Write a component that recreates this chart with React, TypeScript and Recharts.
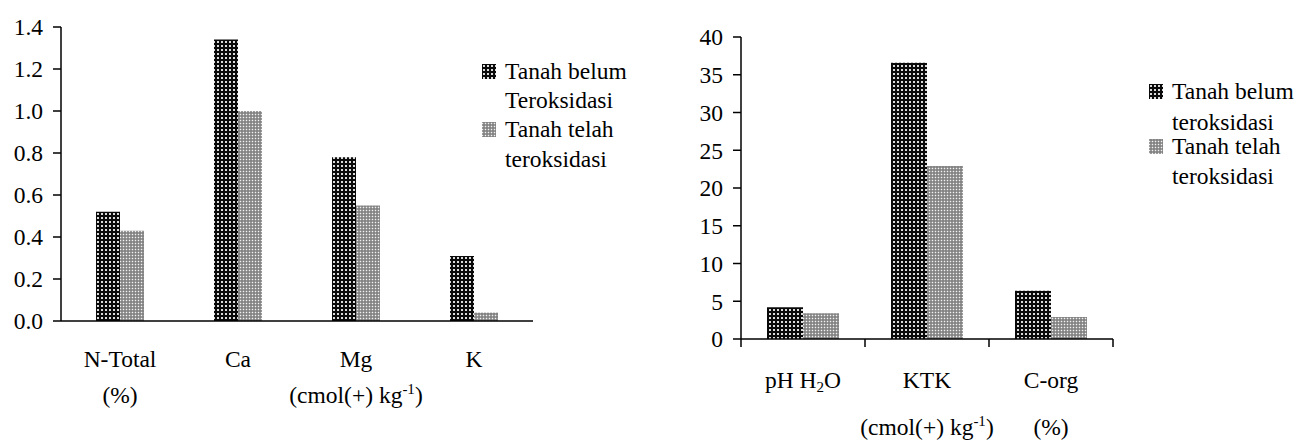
import { BarChart, Bar, XAxis, YAxis } from "recharts";

// ─── Data ───────────────────────────────────────────────
const nutrientNames = ["N-Total", "Ca", "Mg", "K"];
const nutrientUnits = ["%", "", "cmol", ""];
const nutrientBelum = [0.52, 1.34, 0.78, 0.31];
const nutrientTelah = [0.43, 1.0, 0.55, 0.04];
const nutrientTicks = [0, 0.2, 0.4, 0.6, 0.8, 1.0, 1.2, 1.4];

const soilNames = ["pH H2O", "KTK", "C-org"];
const soilUnits = ["", "cmol", "%"];
const soilBelum = [4.2, 36.6, 6.4];
const soilTelah = [3.4, 22.9, 2.9];
const soilTicks = [0, 5, 10, 15, 20, 25, 30, 35, 40];

const leftLegend = ["Tanah belum", "Teroksidasi", "Tanah telah", "teroksidasi"];
const rightLegend = ["Tanah belum", "teroksidasi", "Tanah telah", "teroksidasi"];

const nutrientData = nutrientNames.map((name, i) => ({
    name,
    belum: nutrientBelum[i],
    telah: nutrientTelah[i],
}));
const soilData = soilNames.map((name, i) => ({
    name,
    belum: soilBelum[i],
    telah: soilTelah[i],
}));

const FONT = "'Liberation Serif', 'Times New Roman', serif";
const FS = 23.5;

// ─── Patterns ───────────────────────────────────────────
function Patterns({ prefix }: { prefix: string }) {
    return (
        <defs>
            <pattern id={`${prefix}-dark`} width="4" height="4" patternUnits="userSpaceOnUse">
                <rect width="4" height="4" fill="#0a0a0a" />
                <rect x="1" y="1" width="2" height="2" fill="#d0d0d0" />
                <rect x="1.5" y="1.5" width="1" height="1" fill="#fff" />
            </pattern>
            <pattern id={`${prefix}-light`} width="3" height="3" patternUnits="userSpaceOnUse">
                <rect width="3" height="3" fill="#9a9a9a" />
                <rect x="0" y="0" width="1" height="1" fill="#f2f2f2" />
                <rect x="1.5" y="1.5" width="1" height="1" fill="#444" />
            </pattern>
        </defs>
    );
}

// ─── Unit line ──────────────────────────────────────────
function UnitText({ x, y, unit }: { x: number; y: number; unit: string }) {
    if (!unit) return null;
    if (unit === "%") {
        return (
            <text x={x} y={y} textAnchor="middle" fontFamily={FONT} fontSize={FS} fill="#000">
                (%)
            </text>
        );
    }
    return (
        <text x={x} y={y} textAnchor="middle" fontFamily={FONT} fontSize={FS} fill="#000">
            <tspan>(cmol(+) kg</tspan>
            <tspan fontSize={15} dy={-9}>-1</tspan>
            <tspan dy={9}>)</tspan>
        </text>
    );
}

// ─── Ticks ──────────────────────────────────────────────
function NutrientTick(props: any) {
    const { x, y, payload } = props;
    const i = nutrientNames.indexOf(payload.value);
    return (
        <g>
            <text x={x} y={y + 46} textAnchor="middle" fontFamily={FONT} fontSize={FS} fill="#000">
                {payload.value}
            </text>
            <UnitText x={x} y={y + 82} unit={nutrientUnits[i]} />
        </g>
    );
}

function SoilTick(props: any) {
    const { x, y, payload } = props;
    const i = soilNames.indexOf(payload.value);
    const half = payload.offset ?? 0;
    const isLast = i === soilNames.length - 1;
    return (
        <g>
            <line x1={x - half} x2={x - half} y1={y} y2={y + 8} stroke="#000" strokeWidth={1.5} />
            {isLast && (
                <line x1={x + half} x2={x + half} y1={y} y2={y + 8} stroke="#000" strokeWidth={1.5} />
            )}
            {payload.value === "pH H2O" ? (
                <text x={x} y={y + 49} textAnchor="middle" fontFamily={FONT} fontSize={FS} fill="#000">
                    <tspan>pH H</tspan>
                    <tspan fontSize={15} dy={4}>2</tspan>
                    <tspan dy={-4}>O</tspan>
                </text>
            ) : (
                <text x={x} y={y + 49} textAnchor="middle" fontFamily={FONT} fontSize={FS} fill="#000">
                    {payload.value}
                </text>
            )}
            <UnitText x={x} y={y + 96} unit={soilUnits[i]} />
        </g>
    );
}

// ─── Legend ─────────────────────────────────────────────
function PatternLegend({
    left,
    top,
    lines,
    baselines,
    prefix,
}: {
    left: number;
    top: number;
    lines: string[];
    baselines: number[];
    prefix: string;
}) {
    return (
        <svg
            width={160}
            height={200}
            style={{ position: "absolute", left, top, overflow: "visible" }}
        >
            <Patterns prefix={prefix} />
            <rect x={0} y={baselines[0] - 15} width={14} height={15} fill={`url(#${prefix}-dark)`} />
            <rect x={0} y={baselines[2] - 15} width={14} height={15} fill={`url(#${prefix}-light)`} />
            {lines.map((t, i) => (
                <text key={i} x={23} y={baselines[i]} fontFamily={FONT} fontSize={FS} fill="#000">
                    {t}
                </text>
            ))}
        </svg>
    );
}

const axisLine = { stroke: "#000", strokeWidth: 1.5 };
const yTick = { fill: "#000", fontFamily: FONT, fontSize: FS };

// ─── App ────────────────────────────────────────────────
export default function App() {
    return (
        <div
            style={{
                position: "absolute",
                left: 0,
                top: 0,
                width: 1299,
                height: 442,
                background: "#fff",
            }}
        >
            <div style={{ position: "absolute", left: 0, top: 0 }}>
                <BarChart
                    width={540}
                    height={442}
                    data={nutrientData}
                    margin={{ top: 27, right: 7, bottom: 21, left: 0 }}
                    barGap={0}
                    barSize={24}
                >
                    <Patterns prefix="n" />
                    <XAxis
                        dataKey="name"
                        height={100}
                        axisLine={axisLine}
                        tickLine={false}
                        tickSize={0}
                        tickMargin={0}
                        tick={<NutrientTick />}
                        interval={0}
                    />
                    <YAxis
                        width={61}
                        domain={[0, 1.4]}
                        ticks={nutrientTicks}
                        tickFormatter={(v: number) => v.toFixed(1)}
                        axisLine={axisLine}
                        tickLine={axisLine}
                        tickSize={8}
                        tickMargin={10}
                        tick={yTick}
                        interval={0}
                    />
                    <Bar dataKey="belum" fill="url(#n-dark)" isAnimationActive={false} />
                    <Bar dataKey="telah" fill="url(#n-light)" isAnimationActive={false} />
                </BarChart>
            </div>
            <PatternLegend left={482} top={0} lines={leftLegend} baselines={[79, 108, 137, 167]} prefix="nl" />

            <div style={{ position: "absolute", left: 680, top: 0 }}>
                <BarChart
                    width={440}
                    height={442}
                    data={soilData}
                    margin={{ top: 37, right: 7, bottom: 3, left: 0 }}
                    barGap={0}
                    barSize={36}
                >
                    <Patterns prefix="s" />
                    <XAxis
                        dataKey="name"
                        height={100}
                        axisLine={axisLine}
                        tickLine={false}
                        tickSize={0}
                        tickMargin={0}
                        tick={<SoilTick />}
                        interval={0}
                    />
                    <YAxis
                        width={61}
                        domain={[0, 40]}
                        ticks={soilTicks}
                        axisLine={axisLine}
                        tickLine={axisLine}
                        tickSize={8}
                        tickMargin={10}
                        tick={yTick}
                        interval={0}
                    />
                    <Bar dataKey="belum" fill="url(#s-dark)" isAnimationActive={false} />
                    <Bar dataKey="telah" fill="url(#s-light)" isAnimationActive={false} />
                </BarChart>
            </div>
            <PatternLegend left={1149} top={0} lines={rightLegend} baselines={[99, 130, 154, 184]} prefix="sl" />
        </div>
    );
}
